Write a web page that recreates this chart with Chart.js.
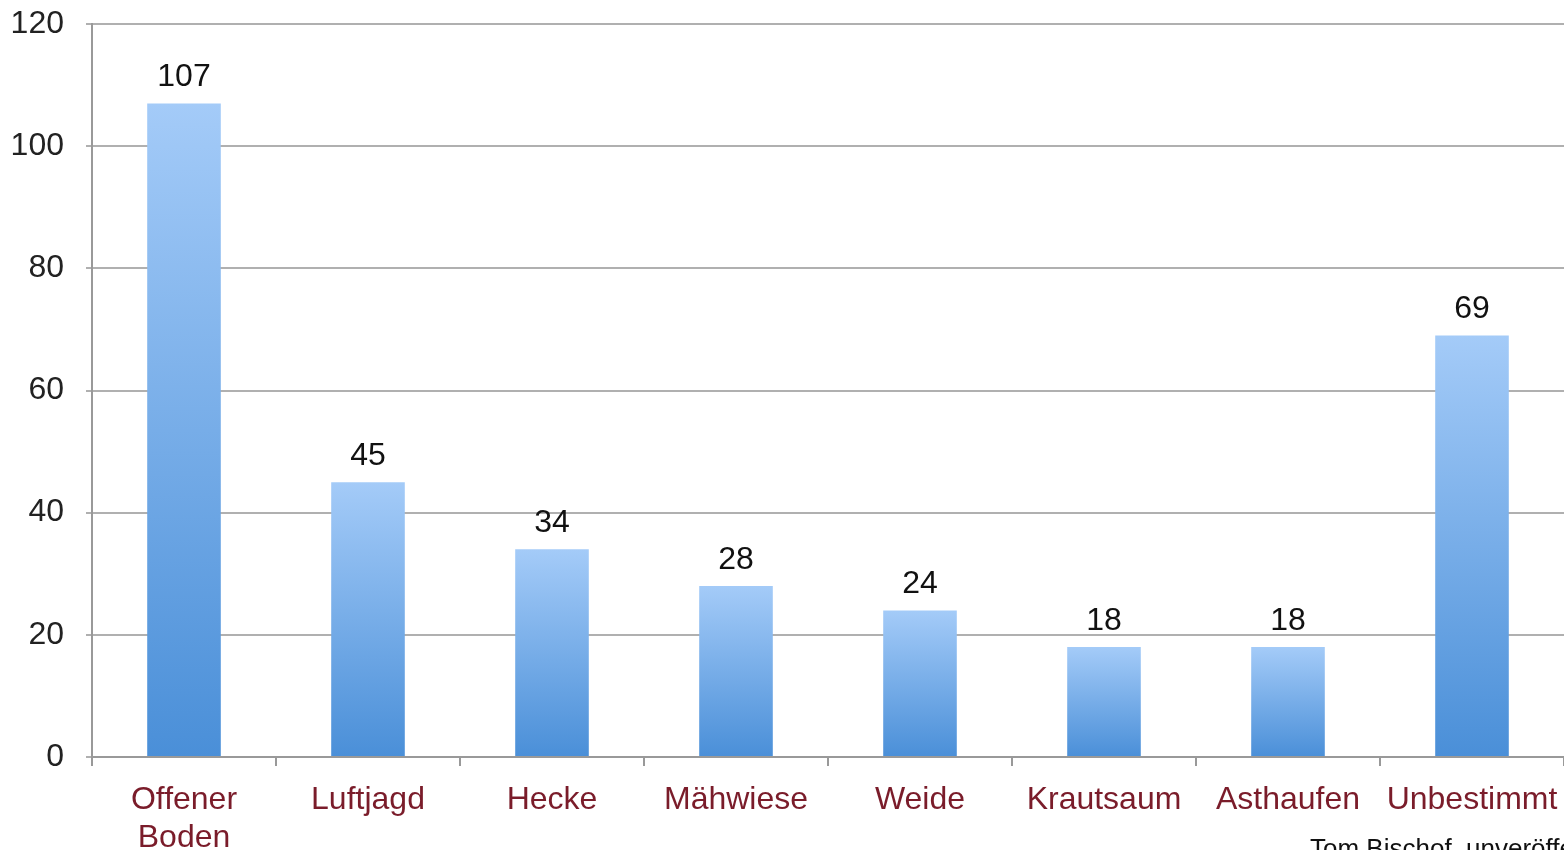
<!DOCTYPE html>
<html>
<head>
<meta charset="utf-8">
<script src="https://cdn.jsdelivr.net/npm/chart.js@4.4.0/dist/chart.umd.min.js"></script>
<style>
  html, body { margin:0; padding:0; background:#fff; width:1564px; height:850px; overflow:hidden; }
  #wrap { position:relative; width:1564px; height:850px; }
  canvas { position:absolute; left:0; top:0; }
  #source { position:absolute; left:1310px; top:833px; font-family:"Liberation Sans", Arial, sans-serif; font-size:26px; color:#111; white-space:nowrap; }
</style>
</head>
<body>
<div id="wrap">
  <canvas id="c" width="1564" height="850"></canvas>
  <div id="source">Tom Bischof, unveröffentlicht</div>
</div>
<script>
const categories = [["Offener","Boden"], "Luftjagd", "Hecke", "Mähwiese", "Weide", "Krautsaum", "Asthaufen", "Unbestimmt"];
const values = [107, 45, 34, 28, 24, 18, 18, 69];
const yTicks = [0, 20, 40, 60, 80, 100, 120];

const FONT = "'Liberation Sans', Arial, sans-serif";

const dataLabels = {
  id: 'dataLabels',
  afterDatasetsDraw(chart) {
    const ctx = chart.ctx;
    const meta = chart.getDatasetMeta(0);
    ctx.save();
    ctx.font = "32px " + FONT;
    ctx.fillStyle = "#111";
    ctx.textAlign = "center";
    ctx.textBaseline = "bottom";
    meta.data.forEach((bar, i) => {
      ctx.fillText(String(values[i]), bar.x, bar.y - 10);
    });
    ctx.restore();
  }
};

function barGradient(context) {
  const chart = context.chart;
  if (!chart.chartArea) return '#6aa6e8';
  const ys = chart.scales.y;
  const v = context.raw;
  const top = ys.getPixelForValue(v);
  const bottom = ys.getPixelForValue(0);
  const g = chart.ctx.createLinearGradient(0, top, 0, bottom);
  g.addColorStop(0, '#a4cbf8');
  g.addColorStop(1, '#4a8fd8');
  return g;
}

new Chart(document.getElementById('c'), {
  type: 'bar',
  data: {
    labels: categories,
    datasets: [{
      data: values,
      backgroundColor: barGradient,
      borderWidth: 0,
      barPercentage: 0.4,
      categoryPercentage: 1.0
    }]
  },
  options: {
    responsive: false,
    animation: false,
    devicePixelRatio: 1,
    layout: { padding: { top: 24, right: 0, left: 0, bottom: 0 } },
    plugins: { legend: { display: false }, tooltip: { enabled: false } },
    scales: {
      x: {
        offset: true,
        grid: { display: true, drawOnChartArea: false, offset: true, color: '#999', lineWidth: 2, tickLength: 9 },
        border: { display: true, color: '#999', width: 2 },
        ticks: { color: '#7a1c2a', font: { family: FONT, size: 32 }, padding: 15, maxRotation: 0, autoSkip: false },
        afterFit(scale) { scale.height = 93; scale.paddingLeft = 0; scale.paddingRight = 0; }
      },
      y: {
        min: 0, max: 120,
        afterBuildTicks(scale) { scale.ticks = yTicks.map(v => ({ value: v })); },
        grid: { color: '#b0b0b0', lineWidth: 2, tickLength: 6 },
        border: { display: true, color: '#999', width: 2 },
        ticks: { color: '#222', font: { family: FONT, size: 32 }, padding: 22 },
        afterFit(scale) { scale.width = 92; scale.paddingTop = 0; scale.paddingBottom = 0; }
      }
    }
  },
  plugins: [dataLabels]
});
</script>
</body>
</html>
